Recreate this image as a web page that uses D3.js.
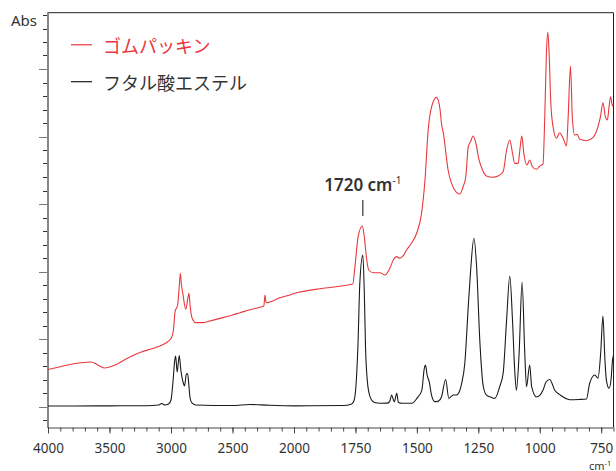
<!DOCTYPE html>
<html>
<head>
<meta charset="utf-8">
<script src="https://cdn.jsdelivr.net/npm/d3@7"></script>
<style>
  html, body { margin: 0; padding: 0; background: #fff; }
  svg { display: block; }
  text { font-family: "Noto Sans", "Open Sans", sans-serif; fill: #333; }
  .jp { font-family: "Noto Sans CJK JP", "Noto Sans", sans-serif; }
</style>
</head>
<body>
<svg id="chart" width="616" height="471"></svg>
<script>
// IR spectra: rubber gasket vs. phthalate ester (absorbance, arbitrary offset units)
const seriesNames = ["ゴムパッキン", "フタル酸エステル"];
const seriesColors = ["#e8383d", "#1a1a1a"];

const rubberWn = [4000, 3900, 3800, 3700, 3650, 3620, 3580, 3540, 3500, 3440, 3380, 3300, 3240, 3170, 3100, 3060, 3020, 2994, 2980, 2967, 2946, 2935, 2924, 2915, 2904, 2880, 2865, 2854, 2845, 2832, 2815, 2805, 2737, 2700, 2602, 2500, 2439, 2350, 2260, 2245, 2236, 2228, 2222, 2114, 2050, 1996, 1881, 1761, 1752, 1739, 1722, 1714, 1704, 1696, 1678, 1650, 1630, 1610, 1596, 1583, 1569, 1556, 1542, 1522, 1501, 1481, 1467, 1454, 1440, 1420, 1406, 1400, 1390, 1382, 1373, 1359, 1346, 1325, 1312, 1301, 1291, 1282, 1271, 1260, 1247, 1233, 1217, 1190, 1170, 1149, 1135, 1122, 1111, 1102, 1088, 1081, 1073, 1065, 1052, 1041, 1030, 1013, 1000, 987, 980, 973, 967, 962, 955, 946, 932, 919, 905, 891, 885, 875, 867, 858, 848, 837, 810, 783, 763, 753, 743, 733, 725, 718, 712, 704, 700];
const rubberAbs = [0.274, 0.295, 0.315, 0.326, 0.330, 0.320, 0.300, 0.285, 0.293, 0.313, 0.344, 0.381, 0.404, 0.424, 0.444, 0.461, 0.485, 0.513, 0.567, 0.702, 0.752, 0.863, 0.987, 0.900, 0.839, 0.720, 0.790, 0.839, 0.752, 0.665, 0.633, 0.621, 0.621, 0.630, 0.653, 0.678, 0.695, 0.719, 0.739, 0.744, 0.826, 0.774, 0.769, 0.806, 0.822, 0.839, 0.876, 0.907, 1.036, 1.258, 1.337, 1.258, 1.085, 1.011, 0.991, 0.991, 0.974, 1.024, 1.085, 1.110, 1.098, 1.115, 1.159, 1.209, 1.283, 1.431, 1.678, 2.048, 2.221, 2.290, 2.204, 2.098, 1.999, 1.876, 1.752, 1.653, 1.604, 1.574, 1.628, 1.702, 1.924, 1.961, 2.004, 1.950, 1.826, 1.752, 1.707, 1.698, 1.707, 1.739, 1.900, 1.974, 1.876, 1.801, 1.801, 1.900, 2.004, 1.876, 1.789, 1.826, 1.776, 1.757, 1.781, 1.796, 2.122, 2.616, 2.772, 2.616, 2.246, 2.073, 1.987, 2.028, 1.987, 1.930, 2.122, 2.522, 2.122, 2.011, 2.016, 1.979, 1.969, 1.994, 2.073, 2.147, 2.250, 2.147, 2.122, 2.221, 2.295, 2.226, 2.240];

const esterWn = [4000, 3800, 3500, 3200, 3100, 3075, 3050, 3020, 3000, 2985, 2970, 2962, 2950, 2933, 2920, 2900, 2890, 2875, 2865, 2855, 2845, 2830, 2800, 2500, 2360, 2200, 2000, 1800, 1765, 1755, 1748, 1740, 1732, 1720, 1714, 1709, 1700, 1696, 1685, 1672, 1650, 1620, 1610, 1603, 1592, 1582, 1575, 1560, 1520, 1500, 1480, 1470, 1465, 1458, 1450, 1440, 1427, 1412, 1400, 1383, 1370, 1360, 1352, 1339, 1330, 1318, 1305, 1291, 1282, 1268, 1257, 1244, 1230, 1217, 1200, 1183, 1163, 1149, 1135, 1122, 1111, 1102, 1095, 1084, 1072, 1061, 1054, 1041, 1033, 1013, 987, 975, 959, 950, 939, 920, 905, 878, 840, 810, 797, 776, 763, 752, 743, 735, 729, 718, 710, 704, 700];
const esterAbs = [0.004, 0.004, 0.005, 0.006, 0.011, 0.022, 0.011, 0.019, 0.048, 0.170, 0.340, 0.374, 0.255, 0.378, 0.270, 0.174, 0.152, 0.241, 0.244, 0.159, 0.063, 0.026, 0.011, 0.007, 0.015, 0.009, 0.005, 0.007, 0.019, 0.048, 0.150, 0.440, 0.920, 1.122, 0.850, 0.440, 0.160, 0.110, 0.050, 0.030, 0.024, 0.025, 0.040, 0.085, 0.035, 0.098, 0.030, 0.024, 0.024, 0.060, 0.120, 0.280, 0.307, 0.230, 0.184, 0.080, 0.036, 0.040, 0.070, 0.200, 0.060, 0.075, 0.085, 0.085, 0.100, 0.170, 0.320, 0.740, 0.990, 1.246, 1.036, 0.490, 0.150, 0.085, 0.070, 0.060, 0.147, 0.246, 0.640, 0.967, 0.640, 0.270, 0.120, 0.395, 0.920, 0.395, 0.147, 0.307, 0.147, 0.070, 0.120, 0.180, 0.200, 0.170, 0.120, 0.090, 0.070, 0.050, 0.052, 0.055, 0.172, 0.233, 0.210, 0.400, 0.670, 0.350, 0.196, 0.135, 0.200, 0.344, 0.380];

// axis ticks (wavenumber, cm-1); the scale is compressed 2:1 above 2000
const xMajorTicks = [4000, 3500, 3000, 2500, 2000, 1750, 1500, 1250, 1000, 750];
const xMinorTicks = d3.range(4000, 2000, -100).concat(d3.range(2000, 699, -50));
const yTicks = d3.range(-1, 30).map(i => i / 10);

const peakLabel = 1720;

const svg = d3.select("#chart");
const plot = { left: 48, right: 613.5, top: 12.7, bottom: 427.5 };

const x = d3.scaleLinear().domain([4000, 2000, 700]).range([plot.left, 294, plot.right]);
const y = d3.scaleLinear().domain([0, 1]).range([406.5, 271.5]);

svg.append("defs").append("clipPath").attr("id", "plotClip")
  .append("rect")
  .attr("x", plot.left).attr("y", plot.top)
  .attr("width", plot.right - plot.left).attr("height", plot.bottom - plot.top);

// frame: top and right
svg.append("path")
  .attr("d", `M${plot.left},${plot.top}H${plot.right}V${plot.bottom}`)
  .attr("fill", "none").attr("stroke", "#222").attr("stroke-width", 1);

// y axis (no labels)
const isMajorY = v => Math.abs(Math.round(v * 10)) % 5 === 0;
const yAxisG = svg.append("g");
yAxisG.selectAll("line.tick")
  .data(yTicks)
  .join("line")
  .attr("x1", d => isMajorY(d) ? plot.left - 9 : plot.left - 5)
  .attr("x2", plot.left)
  .attr("y1", d => Math.round(y(d)) + 0.5)
  .attr("y2", d => Math.round(y(d)) + 0.5)
  .attr("stroke", d => isMajorY(d) ? "#777" : "#333")
  .attr("stroke-width", 1);
yAxisG.append("line")
  .attr("x1", plot.left).attr("x2", plot.left)
  .attr("y1", plot.top - 0.5).attr("y2", plot.bottom + 0.5)
  .attr("stroke", "#888").attr("stroke-width", 2);

// x axis
const xAxisMinor = d3.axisBottom(x).tickValues(xMinorTicks).tickSize(4).tickFormat("");
const xAxisMajor = d3.axisBottom(x).tickValues(xMajorTicks).tickSize(6).tickPadding(10)
  .tickFormat(d3.format("d"));
const gMinor = svg.append("g").attr("transform", `translate(0,${plot.bottom})`).call(xAxisMinor);
gMinor.select(".domain").remove();
gMinor.selectAll("line").attr("stroke", "#444");
const gMajor = svg.append("g").attr("transform", `translate(0,${plot.bottom})`).call(xAxisMajor);
gMajor.select(".domain").attr("stroke", "#444").attr("d", `M${plot.left},0.5H${plot.right}`);
gMajor.selectAll("line").attr("stroke", "#444");
gMajor.selectAll("text")
  .attr("font-family", "\"Noto Sans\", sans-serif")
  .attr("font-size", 13.5).attr("fill", "#333");

// spectra
const line = d3.line()
  .x(d => x(d[0]))
  .y(d => y(d[1]))
  .curve(d3.curveMonotoneX);

const rubber = rubberWn.map((w, i) => [w, rubberAbs[i]]);
const ester = esterWn.map((w, i) => [w, esterAbs[i]]);

const lines = svg.append("g").attr("clip-path", "url(#plotClip)");
lines.append("path").datum(rubber)
  .attr("d", line).attr("fill", "none")
  .attr("stroke", seriesColors[0]).attr("stroke-width", 1.1).attr("stroke-linejoin", "round");
lines.append("path").datum(ester)
  .attr("d", line).attr("fill", "none")
  .attr("stroke", seriesColors[1]).attr("stroke-width", 1.1).attr("stroke-linejoin", "round");

// axis titles
svg.append("text").attr("x", 37).attr("y", 26).attr("text-anchor", "end")
  .attr("font-size", 15).text("Abs");
const cmText = svg.append("text").attr("x", 589).attr("y", 470).attr("font-size", 11);
cmText.append("tspan").text("cm");
cmText.append("tspan").attr("dy", -4).attr("font-size", 7.5).text("-1");

// legend
const legendY = [44.8, 81.7];
seriesNames.forEach((name, i) => {
  svg.append("line")
    .attr("x1", 71).attr("x2", 92)
    .attr("y1", legendY[i]).attr("y2", legendY[i])
    .attr("stroke", seriesColors[i]).attr("stroke-width", 1.2);
  svg.append("text").attr("class", "jp")
    .attr("x", 103).attr("y", legendY[i])
    .attr("dominant-baseline", "central")
    .attr("font-size", 18)
    .style("fill", i === 0 ? seriesColors[0] : "#333")
    .text(name);
});

// 1720 cm-1 annotation
const px = x(peakLabel);
svg.append("line")
  .attr("x1", px).attr("x2", px).attr("y1", 200).attr("y2", 216)
  .attr("stroke", "#333").attr("stroke-width", 1.2);
const pl = svg.append("text").attr("x", px).attr("y", 191)
  .attr("text-anchor", "middle").attr("font-size", 17).attr("font-weight", 600);
pl.append("tspan").text(peakLabel + " cm");
pl.append("tspan").attr("dy", -7).attr("font-size", 10).attr("font-weight", 400).text("-1");
</script>
</body>
</html>
